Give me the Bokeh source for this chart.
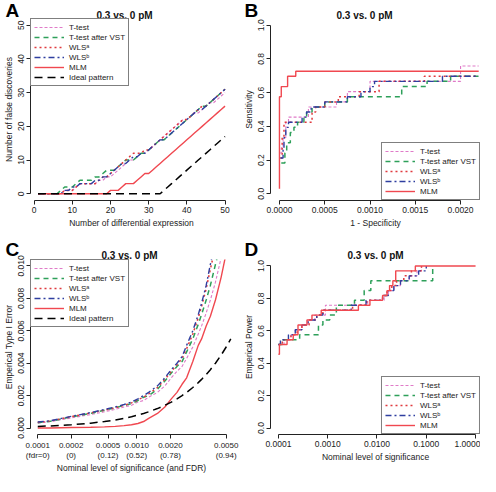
from bokeh.plotting import figure
from bokeh.layouts import gridplot
from bokeh.models import (Range1d, FixedTicker, NumeralTickFormatter,
                          CustomJSTickFormatter, Legend, LegendItem, Title)
from bokeh.embed import file_html
from bokeh.resources import INLINE

FONT = "Liberation Sans"
TXT = "#222222"
panel_title = "0.3 vs. 0 pM"

labels_all = ["T-test", "T-test after VST", "WLSᵃ", "WLSᵇ", "MLM", "Ideal pattern"]

# ---------------- Panel A data ----------------
a_n = list(range(1, 51))
a_ttest = [0, 0, 0, 0, 0, 0, 0, 1, 1, 1, 2, 3, 3, 3, 3, 3, 4, 4, 5, 5,
           6, 7, 8, 9, 10, 10, 11, 12, 12, 13, 14, 15, 16, 17, 18, 19, 20, 21, 22, 22,
           23, 24, 24, 25, 26, 27, 27, 28, 29, 30]
a_vst = [0, 0, 0, 0, 0, 0, 1, 2, 2, 2, 3, 4, 4, 4, 4, 5, 5, 6, 7, 7,
         7, 8, 9, 10, 10, 10, 11, 12, 12, 13, 14, 15, 16, 16, 17, 18, 19, 20, 21, 22,
         23, 24, 25, 26, 26, 27, 28, 29, 30, 31]
a_wlsa = [0, 0, 0, 0, 0, 0, 0, 1, 1, 1, 2, 3, 3, 3, 3, 3, 4, 5, 5, 6,
          7, 8, 9, 10, 11, 12, 12, 12, 13, 13, 14, 15, 16, 17, 18, 19, 20, 21, 22, 22,
          23, 24, 25, 26, 26, 27, 28, 29, 30, 31]
a_wlsb = [0, 0, 0, 0, 0, 0, 0, 1, 1, 2, 2, 3, 3, 3, 3, 4, 4, 5, 5, 6,
          7, 8, 9, 9, 10, 11, 11, 12, 12, 13, 14, 15, 16, 16, 17, 18, 19, 20, 21, 22,
          23, 24, 25, 25, 26, 27, 28, 29, 30, 31]
a_mlm = [0, 0, 0, 0, 0, 0, 0, 0, 0, 0, 0, 0, 0, 0, 0, 0, 0, 0, 0, 1,
         1, 1, 2, 3, 3, 3, 4, 5, 6, 6, 7, 8, 9, 10, 11, 12, 13, 14, 15, 16,
         17, 18, 19, 20, 21, 22, 23, 24, 25, 26]
a_ideal = [0, 0, 0, 0, 0, 0, 0, 0, 0, 0, 0, 0, 0, 0, 0, 0, 0, 0, 0, 0,
           0, 0, 0, 0, 0, 0, 0, 0, 0, 0, 0, 0, 0, 1, 2, 3, 4, 5, 6, 7,
           8, 9, 10, 11, 12, 13, 14, 15, 16, 17]
a_ticks = [0, 10, 20, 30, 40, 50]

# ---------------- Panel B data (ROC, step) ----------------
b_ttest_x = [0.0, 0.00002, 0.00004, 0.00007, 0.0001, 0.00032, 0.00063, 0.00075, 0.001, 0.002, 0.0022]
b_ttest_y = [0.242, 0.273, 0.333, 0.424, 0.455, 0.515, 0.545, 0.606, 0.667, 0.758, 0.758]
b_vst_x = [0.00002, 0.00006, 0.00008, 0.00012, 0.00016, 0.0002, 0.00027, 0.0003, 0.00036,
           0.0005, 0.00075, 0.00135, 0.00163, 0.00189, 0.0022]
b_vst_y = [0.182, 0.242, 0.303, 0.364, 0.394, 0.424, 0.455, 0.485, 0.515,
           0.545, 0.576, 0.636, 0.667, 0.697, 0.697]
b_wlsa_x = [0.00001, 0.00003, 0.00005, 0.00036, 0.0004, 0.0005, 0.00065, 0.00088, 0.0011, 0.0016, 0.0022]
b_wlsa_y = [0.212, 0.333, 0.424, 0.485, 0.515, 0.545, 0.576, 0.606, 0.667, 0.697, 0.697]
b_wlsb_x = [0.00001, 0.00004, 0.00005, 0.00007, 0.0001, 0.00025, 0.0003, 0.00035, 0.0005,
            0.00075, 0.0009, 0.001, 0.00105, 0.0018, 0.0022]
b_wlsb_y = [0.212, 0.273, 0.333, 0.394, 0.424, 0.455, 0.485, 0.515, 0.545,
            0.576, 0.606, 0.636, 0.667, 0.697, 0.697]
b_mlm_x = [0.0, 0.0, 0.00002, 0.00009, 0.00018, 0.0022]
b_mlm_y = [0.030, 0.576, 0.636, 0.697, 0.727, 0.727]
b_xticks = [0.0, 0.0005, 0.001, 0.0015, 0.002]
b_yticks = [0.0, 0.2, 0.4, 0.6, 0.8, 1.0]

# ---------------- Panel C data ----------------
c_level = [0.0001, 0.00013, 0.0002, 0.0003, 0.0004, 0.0005, 0.0006, 0.0007, 0.0008, 0.0009,
           0.001, 0.0012, 0.0014, 0.0016, 0.0018, 0.002, 0.0022, 0.0025, 0.0028, 0.003,
           0.0033, 0.0036, 0.004, 0.0045, 0.005, 0.0055]
c_ttest = [0.0003, 0.0004, 0.00062, 0.00083, 0.001, 0.00115, 0.0013, 0.0014, 0.0016, 0.0017,
           0.0019, 0.0022, 0.0026, 0.0031, 0.0035, 0.0038, 0.0043, 0.005, 0.0058, 0.0063,
           0.0071, 0.0079, 0.009, 0.0105, 0.012, 0.013]
c_vst = [0.00033, 0.00042, 0.00068, 0.0009, 0.0011, 0.00125, 0.0014, 0.0015, 0.0017, 0.0019,
         0.002, 0.0024, 0.0029, 0.0034, 0.0038, 0.0041, 0.0047, 0.0055, 0.0064, 0.007,
         0.0079, 0.0088, 0.0101, 0.0115, 0.013, 0.014]
c_wlsa = [0.00035, 0.00043, 0.0007, 0.00093, 0.0011, 0.00125, 0.0014, 0.00155, 0.00175, 0.0019,
          0.0021, 0.0025, 0.003, 0.0035, 0.0039, 0.0043, 0.0049, 0.0058, 0.0068, 0.0075,
          0.0086, 0.0098, 0.0112, 0.0125, 0.014, 0.015]
c_wlsb = [0.00037, 0.00045, 0.00072, 0.00095, 0.00115, 0.0013, 0.00145, 0.0016, 0.0018, 0.002,
          0.0022, 0.0026, 0.0031, 0.0036, 0.004, 0.0044, 0.0051, 0.006, 0.007, 0.0077,
          0.0088, 0.0101, 0.0115, 0.013, 0.0145, 0.016]
c_mlm = [0.0, 0.0, 0.00003, 0.00005, 0.00007, 0.0001, 0.00015, 0.0002, 0.00028, 0.0004,
         0.0006, 0.0009, 0.0013, 0.0018, 0.0022, 0.0027, 0.0031, 0.0041, 0.0051, 0.0055,
         0.0063, 0.0069, 0.0079, 0.0093, 0.0108, 0.012]
c_ideal = [0.0001, 0.00013, 0.0002, 0.0003, 0.0004, 0.0005, 0.0006, 0.0007, 0.0008, 0.0009,
           0.001, 0.0012, 0.0014, 0.0016, 0.0018, 0.002, 0.0022, 0.0025, 0.0028, 0.003,
           0.0033, 0.0036, 0.004, 0.0045, 0.005, 0.0055]
# where the reference puts its bottom ticks on the log axis, and what they read
c_xtick_at = [0.0001, 0.0002, 0.00043, 0.00078, 0.00157, 0.005]
c_xtick_labels = ["0.0001\n(fdr=0)", "0.0002\n(0)", "0.0005\n(0.12)",
                  "0.0010\n(0.52)", "0.0020\n(0.78)", "0.0050\n(0.94)"]
c_yticks = [0.0, 0.002, 0.004, 0.006, 0.008, 0.010]

# ---------------- Panel D data (power, step) ----------------
d_ttest_x = [0.0001, 0.00013, 0.00018, 0.00022, 0.0003, 0.0004, 0.00055, 0.0009, 0.0065,
             0.014, 0.017, 0.022, 0.03, 0.045, 0.065, 0.08]
d_ttest_y = [0.515, 0.545, 0.576, 0.606, 0.636, 0.667, 0.697, 0.758, 0.788,
             0.818, 0.848, 0.879, 0.909, 0.939, 0.970, 1.0]
d_vst_x = [0.0001, 0.00012, 0.00027, 0.00065, 0.0008, 0.0011, 0.0015, 0.0035, 0.0055, 0.0075, 0.135]
d_vst_y = [0.515, 0.545, 0.576, 0.636, 0.667, 0.697, 0.758, 0.788, 0.848, 0.909, 1.0]
d_wlsa_x = [0.0001, 0.00012, 0.00018, 0.00024, 0.0003, 0.00042, 0.0006, 0.0008, 0.0032,
            0.0062, 0.013, 0.016, 0.02, 0.025, 0.035, 0.05, 0.08]
d_wlsa_y = [0.515, 0.545, 0.576, 0.606, 0.636, 0.667, 0.697, 0.727, 0.758,
            0.788, 0.818, 0.848, 0.879, 0.909, 0.939, 0.970, 1.0]
d_wlsb_x = [0.0001, 0.00011, 0.00016, 0.00022, 0.0003, 0.0004, 0.0006, 0.0008, 0.003,
            0.006, 0.013, 0.017, 0.022, 0.03, 0.045, 0.07, 0.1]
d_wlsb_y = [0.515, 0.545, 0.576, 0.606, 0.636, 0.667, 0.697, 0.727, 0.758,
            0.788, 0.818, 0.848, 0.879, 0.909, 0.939, 0.970, 1.0]
d_mlm_x = [0.0001, 0.000105, 0.00015, 0.0002, 0.00025, 0.00038, 0.00048, 0.00074, 0.0042,
           0.0072, 0.013, 0.016, 0.018, 0.021, 0.024, 0.06, 1.0]
d_mlm_y = [0.455, 0.515, 0.545, 0.576, 0.636, 0.667, 0.697, 0.727, 0.758,
           0.788, 0.818, 0.848, 0.879, 0.909, 0.970, 1.0, 1.0]
d_xticks = [0.0001, 0.001, 0.01, 0.1, 1.0]
d_yticks = [0.0, 0.2, 0.4, 0.6, 0.8, 1.0]

# ---------------- styles ----------------
STY = {
    "T-test": dict(line_color="#E07AC8", line_dash="3 2", line_width=1.1),
    "T-test after VST": dict(line_color="#2EA05A", line_dash="5 4", line_width=1.5),
    "WLSᵃ": dict(line_color="#E0393E", line_dash="2 3", line_width=1.5),
    "WLSᵇ": dict(line_color="#2F3FA0", line_dash="6 3 2 3", line_width=1.4),
    "MLM": dict(line_color="#F04850", line_dash="solid", line_width=1.4),
    "Ideal pattern": dict(line_color="#000000", line_dash="8 5", line_width=1.5),
}

W, H = 240, 238


def base(xr, yr, xtype, left, right, top, bottom, letter_txt, t_off, t_so, l_so):
    p = figure(width=W, height=H, x_range=xr, y_range=yr, x_axis_type=xtype,
               output_backend="svg", toolbar_location=None, title=None,
               min_border_left=left, min_border_right=right,
               min_border_top=top, min_border_bottom=bottom)
    # panel title (inner) and panel letter (outer), both in the top border
    p.add_layout(Title(text=panel_title, align="left", offset=t_off, standoff=t_so,
                       text_font=FONT, text_font_size="10px", text_font_style="bold",
                       text_color="#111111"), "above")
    p.add_layout(Title(text=letter_txt, align="left", offset=3 - left, standoff=l_so,
                       text_font=FONT, text_font_size="19px", text_font_style="bold",
                       text_color="black"), "above")
    p.outline_line_color = None
    p.xgrid.visible = False
    p.ygrid.visible = False
    for ax in p.axis:
        ax.axis_line_color = "#222222"
        ax.major_tick_line_color = "#222222"
        ax.minor_tick_line_color = None
        ax.major_tick_out = 4
        ax.major_tick_in = 0
        ax.major_label_text_font = FONT
        ax.major_label_text_font_size = "8.5px"
        ax.major_label_text_color = TXT
        ax.major_label_standoff = 2
        ax.axis_label_text_font = FONT
        ax.axis_label_text_font_size = "8.5px"
        ax.axis_label_text_font_style = "normal"
        ax.axis_label_text_color = TXT
        ax.axis_label_standoff = 2
    p.yaxis.major_label_orientation = "vertical"
    return p


def legend(p, rends, names, loc):
    leg = Legend(items=[LegendItem(label=n, renderers=[r]) for n, r in zip(names, rends)],
                 location=loc, margin=0, padding=3, spacing=0,
                 border_line_color="black", border_line_width=1,
                 background_fill_color="white", background_fill_alpha=1,
                 label_text_font=FONT, label_text_font_size="8px", label_text_color=TXT,
                 glyph_width=30, glyph_height=10, label_height=10, label_standoff=5)
    p.add_layout(leg)


# ---------------- Panel A ----------------
pA = base(Range1d(-0.96, 51.96), Range1d(-2, 52), "linear", 28, 8, 18, 38, "A", 66, -5, -21)
pA.xaxis.ticker = FixedTicker(ticks=a_ticks)
pA.yaxis.ticker = FixedTicker(ticks=a_ticks)
pA.xaxis.bounds = (0, 50)
pA.yaxis.bounds = (0, 50)
pA.xaxis.axis_label = "Number of differential expression"
pA.yaxis.axis_label = "Number of false discoveries"
rA = []
for name, ys in zip(labels_all, [a_ttest, a_vst, a_wlsa, a_wlsb, a_mlm, a_ideal]):
    rA.append(pA.line(a_n, ys, **STY[name]))
legend(pA, rA, labels_all, "top_left")

# ---------------- Panel B ----------------
pB = base(Range1d(-0.0000989, 0.00222), Range1d(-0.04, 1.04), "linear", 29, 0, 18, 38, "B", 66, -5, -21)
pB.xaxis.ticker = FixedTicker(ticks=b_xticks)
pB.yaxis.ticker = FixedTicker(ticks=b_yticks)
pB.xaxis.formatter = NumeralTickFormatter(format="0.0000")
pB.yaxis.formatter = NumeralTickFormatter(format="0.0")
pB.xaxis.bounds = (0, 0.002)
pB.yaxis.bounds = (0, 1)
pB.xaxis.axis_label = "1 - Specificity"
pB.yaxis.axis_label = "Sensitivity"
rB = []
for name, xs, ys in zip(labels_all[:5],
                        [b_ttest_x, b_vst_x, b_wlsa_x, b_wlsb_x, b_mlm_x],
                        [b_ttest_y, b_vst_y, b_wlsa_y, b_wlsb_y, b_mlm_y]):
    rB.append(pB.step(xs, ys, mode="after", **STY[name]))
legend(pB, rB, labels_all[:5], "bottom_right")

# ---------------- Panel C ----------------
pC = base(Range1d(0.000086, 0.0057), Range1d(-0.0004, 0.0104), "log", 28, 6, 21, 36, "C", 71, -3, -21)
pC.xaxis.ticker = FixedTicker(ticks=c_xtick_at)
pC.xaxis.formatter = CustomJSTickFormatter(args=dict(labs=c_xtick_labels),
                                           code="return labs[index];")
pC.xaxis.major_label_text_font_size = "8px"
pC.yaxis.ticker = FixedTicker(ticks=c_yticks)
pC.yaxis.formatter = NumeralTickFormatter(format="0.000")
pC.xaxis.bounds = (0.0001, 0.005)
pC.yaxis.bounds = (0, 0.01)
pC.xaxis.axis_label = "Nominal level of significance (and FDR)"
pC.xaxis.axis_label_standoff = 0
pC.yaxis.axis_label = "Emperical Type I Error"
rC = []
for name, ys in zip(labels_all, [c_ttest, c_vst, c_wlsa, c_wlsb, c_mlm, c_ideal]):
    rC.append(pC.line(c_level, ys, **STY[name]))
legend(pC, rC, labels_all, "top_left")

# ---------------- Panel D ----------------
pD = base(Range1d(0.0000692, 1.259), Range1d(-0.04, 1.04), "log", 29, 0, 21, 33, "D", 77, -3, -21)
pD.xaxis.ticker = FixedTicker(ticks=d_xticks)
pD.xaxis.formatter = NumeralTickFormatter(format="0.0000")
pD.yaxis.ticker = FixedTicker(ticks=d_yticks)
pD.yaxis.formatter = NumeralTickFormatter(format="0.0")
pD.xaxis.bounds = (0.0001, 1.0)
pD.yaxis.bounds = (0, 1)
pD.xaxis.axis_label = "Nominal level of significance"
pD.yaxis.axis_label = "Emperical Power"
rD = []
for name, xs, ys in zip(labels_all[:5],
                        [d_ttest_x, d_vst_x, d_wlsa_x, d_wlsb_x, d_mlm_x],
                        [d_ttest_y, d_vst_y, d_wlsa_y, d_wlsb_y, d_mlm_y]):
    rD.append(pD.step(xs, ys, mode="after", **STY[name]))
legend(pD, rD, labels_all[:5], "bottom_right")

grid = gridplot([[pA, pB], [pC, pD]], toolbar_location=None)
open("out.html", "w").write(file_html(grid, INLINE))
